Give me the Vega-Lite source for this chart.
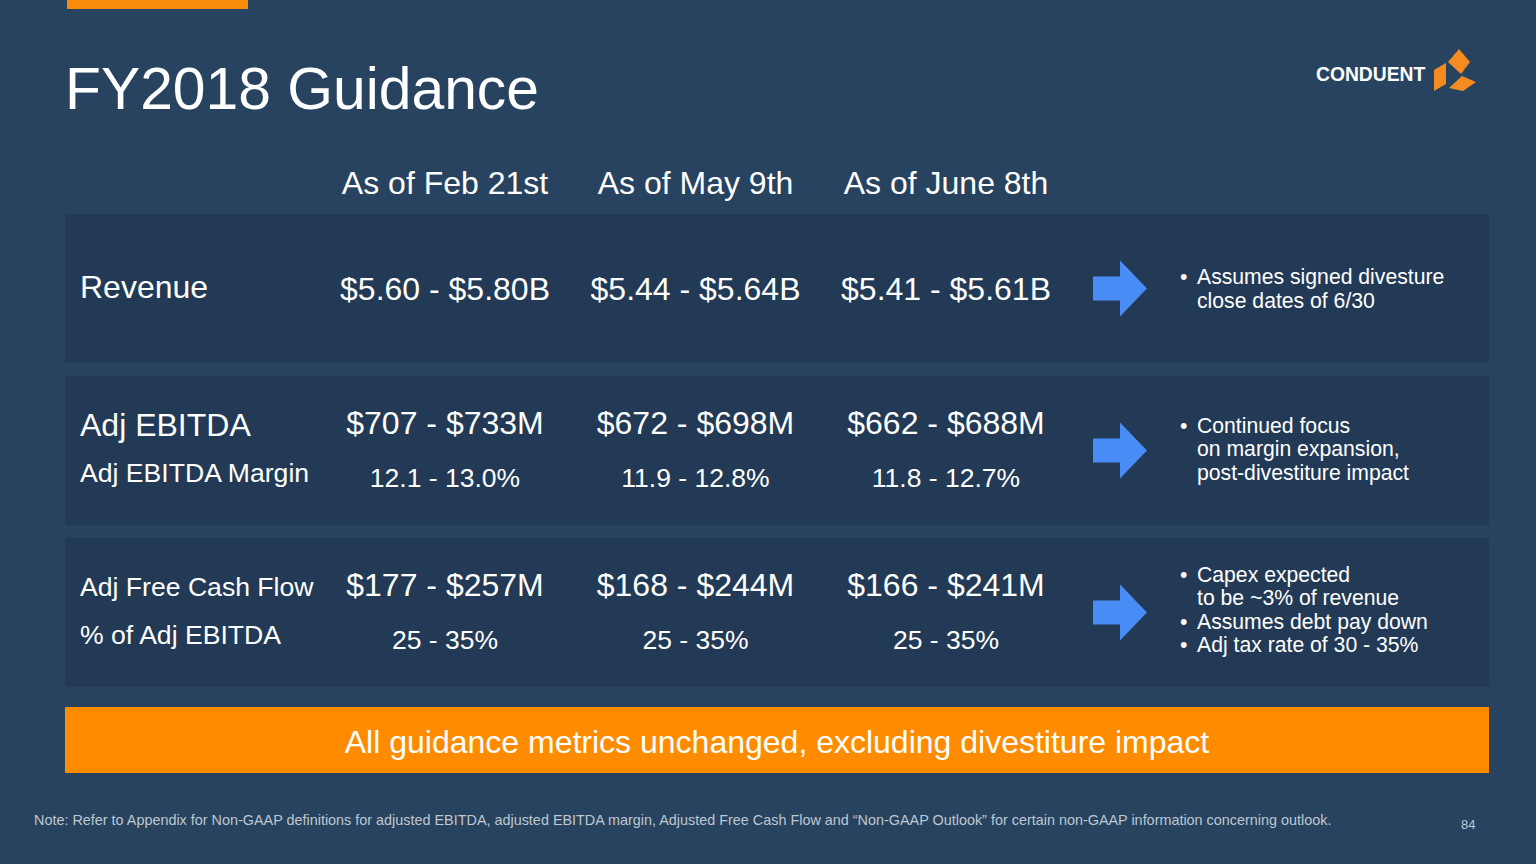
{
  "$schema": "https://vega.github.io/schema/vega-lite/v6.json",
  "width": 1536,
  "height": 864,
  "padding": 0,
  "autosize": {"type": "none"},
  "background": "#27435F",
  "config": {"view": {"stroke": null}, "font": "Liberation Sans", "text": {"font": "Liberation Sans"}},
  "datasets": {
    "panels": [
      {"row": "rev", "metric": "Revenue"},
      {"row": "ebitda", "metric": "Adj EBITDA"},
      {"row": "fcf", "metric": "Adj Free Cash Flow"}
    ],
    "headers": [
      {"period": "feb", "label": "As of Feb 21st"},
      {"period": "may", "label": "As of May 9th"},
      {"period": "jun", "label": "As of June 8th"}
    ],
    "guidance": [
      {"row": "rev", "level": "single", "period": "feb", "value": "$5.60 - $5.80B"},
      {"row": "rev", "level": "single", "period": "may", "value": "$5.44 - $5.64B"},
      {"row": "rev", "level": "single", "period": "jun", "value": "$5.41 - $5.61B"},
      {"row": "ebitda", "level": "main", "period": "feb", "value": "$707 - $733M"},
      {"row": "ebitda", "level": "main", "period": "may", "value": "$672 - $698M"},
      {"row": "ebitda", "level": "main", "period": "jun", "value": "$662 - $688M"},
      {"row": "ebitda", "level": "sub", "period": "feb", "value": "12.1 - 13.0%"},
      {"row": "ebitda", "level": "sub", "period": "may", "value": "11.9 - 12.8%"},
      {"row": "ebitda", "level": "sub", "period": "jun", "value": "11.8 - 12.7%"},
      {"row": "fcf", "level": "main", "period": "feb", "value": "$177 - $257M"},
      {"row": "fcf", "level": "main", "period": "may", "value": "$168 - $244M"},
      {"row": "fcf", "level": "main", "period": "jun", "value": "$166 - $241M"},
      {"row": "fcf", "level": "sub", "period": "feb", "value": "25 - 35%"},
      {"row": "fcf", "level": "sub", "period": "may", "value": "25 - 35%"},
      {"row": "fcf", "level": "sub", "period": "jun", "value": "25 - 35%"}
    ],
    "labels": [
      {"row": "rev", "level": "single", "label": "Revenue"},
      {"row": "ebitda", "level": "main", "label": "Adj EBITDA"},
      {"row": "ebitda", "level": "sub", "label": "Adj EBITDA Margin"},
      {"row": "fcf", "level": "main", "label": "Adj Free Cash Flow"},
      {"row": "fcf", "level": "sub", "label": "% of Adj EBITDA"}
    ],
    "comments": [
      {"row": "rev", "text": "Assumes signed divesture\nclose dates of 6/30", "bullets": "•"},
      {"row": "ebitda", "text": "Continued focus\non margin expansion,\npost-divestiture impact", "bullets": "•"},
      {"row": "fcf", "text": "Capex expected\nto be ~3% of revenue\nAssumes debt pay down\nAdj tax rate of 30 - 35%", "bullets": "•\n\u2800\n•\n•"}
    ]
  },
  "resolve": {"scale": {"x": "independent", "y": "independent", "yOffset": "independent", "size": "independent"}},
  "layer": [
    {
      "data": {"values": [{"piece": "accent"}]},
      "mark": {"type": "rect", "color": "#F98B0B"},
      "encoding": {
        "x": {"field": "piece", "type": "nominal", "scale": {"type": "band", "domain": ["accent"], "range": [67, 248], "paddingInner": 0, "paddingOuter": 0}, "axis": null},
        "y": {"field": "piece", "type": "nominal", "scale": {"type": "band", "domain": ["accent"], "range": [0, 9], "paddingInner": 0, "paddingOuter": 0}, "axis": null}
      }
    },
    {
      "data": {"name": "panels"},
      "mark": {"type": "rect", "color": "#223A55"},
      "encoding": {
        "x": {"datum": "panel", "type": "nominal", "scale": {"type": "band", "domain": ["panel"], "range": [65, 1489], "paddingInner": 0, "paddingOuter": 0}, "axis": null},
        "y": {"field": "row", "type": "nominal", "scale": {"type": "band", "domain": ["rev", "ebitda", "fcf"], "range": [214, 687], "paddingInner": 0.08, "paddingOuter": 0}, "axis": null}
      }
    },
    {
      "data": {"values": [{"message": "All guidance metrics unchanged, excluding divestiture impact"}]},
      "mark": {"type": "rect", "color": "#FF8C00"},
      "encoding": {
        "x": {"datum": "banner", "type": "nominal", "scale": {"type": "band", "domain": ["banner"], "range": [65, 1489], "paddingInner": 0, "paddingOuter": 0}, "axis": null},
        "y": {"datum": "banner", "type": "nominal", "scale": {"type": "band", "domain": ["banner"], "range": [707, 773], "paddingInner": 0, "paddingOuter": 0}, "axis": null}
      }
    },
    {
      "data": {"values": [{"message": "All guidance metrics unchanged, excluding divestiture impact"}]},
      "mark": {"type": "text", "color": "#FFFFFF", "fontSize": 32, "align": "center", "baseline": "middle", "dy": 3},
      "encoding": {
        "x": {"datum": "banner", "type": "nominal", "scale": {"type": "band", "domain": ["banner"], "range": [65, 1489], "paddingInner": 0, "paddingOuter": 0}, "axis": null},
        "y": {"datum": "banner", "type": "nominal", "scale": {"type": "band", "domain": ["banner"], "range": [707, 773], "paddingInner": 0, "paddingOuter": 0}, "axis": null},
        "text": {"field": "message"}
      }
    },
    {
      "data": {"name": "headers"},
      "mark": {"type": "text", "color": "#FFFFFF", "fontSize": 32, "align": "center", "baseline": "middle"},
      "encoding": {
        "x": {"field": "period", "type": "nominal", "scale": {"type": "point", "domain": ["feb", "may", "jun"], "range": [445, 946], "padding": 0}, "axis": null},
        "y": {"datum": "header", "type": "nominal", "scale": {"type": "point", "domain": ["header"], "range": [184, 184], "padding": 0}, "axis": null},
        "text": {"field": "label"}
      }
    },
    {
      "data": {"name": "guidance"},
      "mark": {"type": "text", "color": "#FFFFFF", "align": "center", "baseline": "middle"},
      "encoding": {
        "x": {"field": "period", "type": "nominal", "scale": {"type": "point", "domain": ["feb", "may", "jun"], "range": [445, 946], "padding": 0}, "axis": null},
        "y": {"field": "row", "type": "nominal", "scale": {"type": "band", "domain": ["rev", "ebitda", "fcf"], "range": [214, 687], "paddingInner": 0.08, "paddingOuter": 0}, "axis": null},
        "yOffset": {"field": "level", "type": "nominal", "scale": {"type": "point", "domain": ["main", "single", "sub"], "range": [48.5, 103.5], "padding": 0}},
        "size": {"field": "level", "type": "nominal", "scale": {"type": "ordinal", "domain": ["main", "single", "sub"], "range": [32, 32, 26.5]}, "legend": null},
        "text": {"field": "value"}
      }
    },
    {
      "data": {"name": "labels"},
      "mark": {"type": "text", "color": "#FFFFFF", "align": "left", "baseline": "middle"},
      "encoding": {
        "x": {"datum": "label", "type": "nominal", "scale": {"type": "point", "domain": ["label"], "range": [80, 80], "padding": 0}, "axis": null},
        "y": {"field": "row", "type": "nominal", "scale": {"type": "band", "domain": ["rev", "ebitda", "fcf"], "range": [214, 687], "paddingInner": 0.08, "paddingOuter": 0}, "axis": null},
        "yOffset": {"field": "level", "type": "nominal", "scale": {"type": "point", "domain": ["main", "single", "sub"], "range": [50, 98], "padding": 0}},
        "size": {"condition": {"test": "datum.row === 'fcf' || datum.level === 'sub'", "value": 26.6}, "value": 32},
        "text": {"field": "label"}
      }
    },
    {
      "data": {"name": "panels"},
      "mark": {"type": "point", "shape": "M-0.964,-0.43L0,-0.43L0,-1L0.964,0L0,1L0,0.43L-0.964,0.43Z", "size": 3136, "filled": true, "color": "#4A8CF6", "opacity": 1, "strokeWidth": 0},
      "encoding": {
        "x": {"datum": "arrow", "type": "nominal", "scale": {"type": "point", "domain": ["arrow"], "range": [1120, 1120], "padding": 0}, "axis": null},
        "y": {"field": "row", "type": "nominal", "scale": {"type": "band", "domain": ["rev", "ebitda", "fcf"], "range": [214, 687], "paddingInner": 0.08, "paddingOuter": 0}, "axis": null}
      }
    },
    {
      "data": {"name": "comments"},
      "mark": {"type": "text", "color": "#FFFFFF", "fontSize": 21.2, "align": "left", "baseline": "middle", "lineBreak": "\n", "lineHeight": 23.5},
      "encoding": {
        "x": {"datum": "note", "type": "nominal", "scale": {"type": "point", "domain": ["note"], "range": [1197, 1197], "padding": 0}, "axis": null},
        "y": {"field": "row", "type": "nominal", "scale": {"type": "band", "domain": ["rev", "ebitda", "fcf"], "range": [214, 687], "paddingInner": 0.08, "paddingOuter": 0}, "axis": null},
        "yOffset": {"field": "row", "type": "nominal", "scale": {"type": "point", "domain": ["rev", "ebitda", "fcf"], "range": [64, 38], "padding": 0}},
        "text": {"field": "text"}
      }
    },
    {
      "data": {"name": "comments"},
      "mark": {"type": "text", "color": "#FFFFFF", "fontSize": 21.2, "align": "left", "baseline": "middle", "lineBreak": "\n", "lineHeight": 23.5},
      "encoding": {
        "x": {"datum": "bullet", "type": "nominal", "scale": {"type": "point", "domain": ["bullet"], "range": [1180, 1180], "padding": 0}, "axis": null},
        "y": {"field": "row", "type": "nominal", "scale": {"type": "band", "domain": ["rev", "ebitda", "fcf"], "range": [214, 687], "paddingInner": 0.08, "paddingOuter": 0}, "axis": null},
        "yOffset": {"field": "row", "type": "nominal", "scale": {"type": "point", "domain": ["rev", "ebitda", "fcf"], "range": [64, 38], "padding": 0}},
        "text": {"field": "bullets"}
      }
    },
    {
      "data": {"values": [{"title": "FY2018 Guidance"}]},
      "mark": {"type": "text", "color": "#FFFFFF", "fontSize": 58.8, "align": "left", "baseline": "middle"},
      "encoding": {
        "x": {"datum": "title", "type": "nominal", "scale": {"type": "point", "domain": ["title"], "range": [65, 65], "padding": 0}, "axis": null},
        "y": {"datum": "title", "type": "nominal", "scale": {"type": "point", "domain": ["title"], "range": [91, 91], "padding": 0}, "axis": null},
        "text": {"field": "title"}
      }
    },
    {
      "data": {"values": [{"brand": "CONDUENT"}]},
      "mark": {"type": "text", "color": "#FFFFFF", "fontSize": 19.3, "fontWeight": "bold", "align": "left", "baseline": "middle"},
      "encoding": {
        "x": {"datum": "brand", "type": "nominal", "scale": {"type": "point", "domain": ["brand"], "range": [1316, 1316], "padding": 0}, "axis": null},
        "y": {"datum": "brand", "type": "nominal", "scale": {"type": "point", "domain": ["brand"], "range": [75, 75], "padding": 0}, "axis": null},
        "text": {"field": "brand"}
      }
    },
    {
      "data": {"values": [{"brand": "CONDUENT"}]},
      "mark": {"type": "point", "shape": "M-0.333,-0.381L0.19,-1L0.714,-0.381L0.286,0.19Z M-1,0L-0.429,-0.333L-0.429,0.667L-1,1Z M-0.286,0.857L0.333,0.286L1,0.571L0.381,1Z", "size": 1764, "filled": true, "color": "#F68B1F", "opacity": 1, "strokeWidth": 0},
      "encoding": {
        "x": {"datum": "icon", "type": "nominal", "scale": {"type": "point", "domain": ["icon"], "range": [1455, 1455], "padding": 0}, "axis": null},
        "y": {"datum": "icon", "type": "nominal", "scale": {"type": "point", "domain": ["icon"], "range": [70, 70], "padding": 0}, "axis": null}
      }
    },
    {
      "data": {"values": [
        {"item": "note", "text": "Note: Refer to Appendix for Non-GAAP definitions for adjusted EBITDA, adjusted EBITDA margin, Adjusted Free Cash Flow and “Non-GAAP Outlook” for certain non-GAAP information concerning outlook."},
        {"item": "page", "text": "84"}
      ]},
      "mark": {"type": "text", "color": "#BFC7D1", "align": "left", "baseline": "middle"},
      "encoding": {
        "x": {"field": "item", "type": "nominal", "scale": {"type": "point", "domain": ["note", "page"], "range": [34, 1461], "padding": 0}, "axis": null},
        "y": {"field": "item", "type": "nominal", "scale": {"type": "point", "domain": ["note", "page"], "range": [821, 825], "padding": 0}, "axis": null},
        "size": {"field": "item", "type": "nominal", "scale": {"type": "ordinal", "domain": ["note", "page"], "range": [14.4, 13]}, "legend": null},
        "text": {"field": "text"}
      }
    }
  ]
}
